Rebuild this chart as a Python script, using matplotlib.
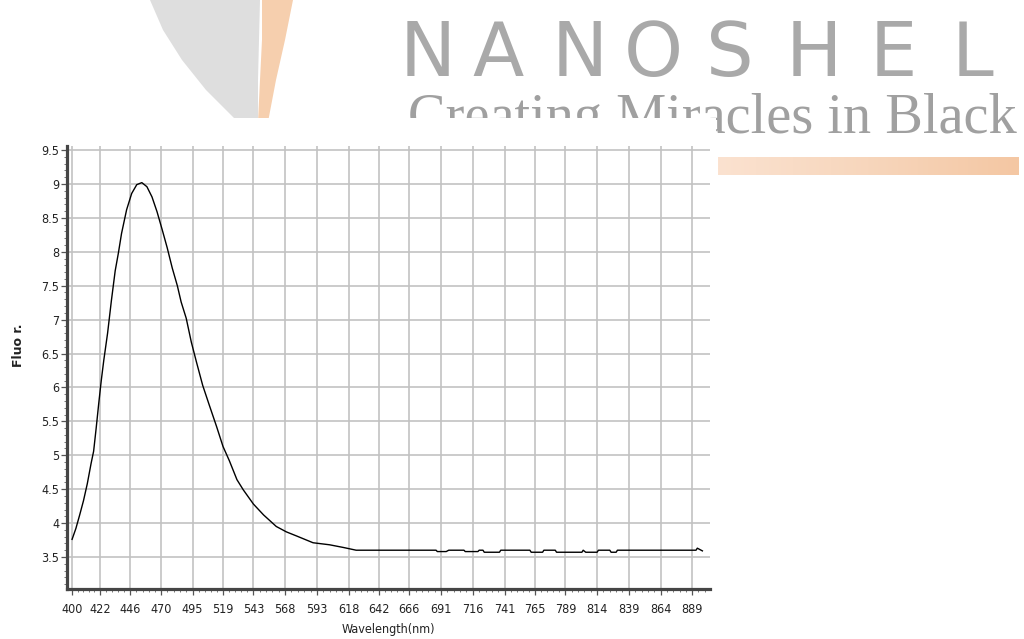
import numpy as np
import matplotlib
matplotlib.use('Agg')
import matplotlib.pyplot as plt
from matplotlib.patches import Rectangle, Polygon
from matplotlib.colors import LinearSegmentedColormap

# ---------------- data ----------------
wavelength = [400, 403, 406, 409, 412, 415, 417, 419, 421, 423, 425, 428, 431, 434,
              436.5, 439, 443, 447, 451, 455, 459, 463, 467, 471, 475, 479, 483, 486,
              490, 494, 498, 503, 508, 514, 519, 524, 530, 535, 543, 551, 561, 569,
              577, 590, 603, 614, 624, 687, 688, 695, 697, 709, 710, 720, 721, 724,
              725, 737, 738, 761, 762, 771, 772, 781, 782, 802, 803, 805, 814, 815,
              824, 825, 829, 830, 892, 893, 897]
fluor = [3.76, 3.92, 4.12, 4.33, 4.58, 4.88, 5.06, 5.40, 5.76, 6.10, 6.40, 6.80, 7.28, 7.72,
         7.98, 8.27, 8.62, 8.86, 8.99, 9.02, 8.96, 8.81, 8.59, 8.33, 8.06, 7.76, 7.50, 7.26,
         7.02, 6.67, 6.38, 6.03, 5.75, 5.42, 5.13, 4.92, 4.64, 4.49, 4.28, 4.12, 3.95, 3.87,
         3.81, 3.71, 3.68, 3.64, 3.60, 3.60, 3.58, 3.58, 3.60, 3.60, 3.58, 3.58, 3.60, 3.60,
         3.57, 3.57, 3.60, 3.60, 3.57, 3.57, 3.60, 3.60, 3.57, 3.57, 3.60, 3.57, 3.57, 3.60,
         3.60, 3.57, 3.57, 3.60, 3.60, 3.63, 3.59]

x_ticks = [400, 422, 446, 470, 495, 519, 543, 568, 593, 618, 642, 666, 691, 716,
           741, 765, 789, 814, 839, 864, 889]
y_ticks = [3.5, 4, 4.5, 5, 5.5, 6, 6.5, 7, 7.5, 8, 8.5, 9, 9.5]
y_tick_labels = ['3.5', '4', '4.5', '5', '5.5', '6', '6.5', '7', '7.5', '8', '8.5', '9', '9.5']
x_label = 'Wavelength(nm)'
y_label = 'Fluo r.'
brand = 'NANOSHEL'
slogan = 'Creating Miracles in Black'

# ---------------- figure ----------------
W, H = 1024, 639
fig = plt.figure(figsize=(W / 100, H / 100), dpi=100)
fig.patch.set_facecolor('white')

def fx(px):
    return px / W

def fy(py):
    return 1 - py / H

tick_font = ['DejaVu Sans']

# ---- watermark / logo decoration ----
gray_left = [(150, 0), (163, 30), (182, 60), (206, 90), (238, 122)]
gray_right = [(258, 122), (258, 80), (259, 40), (260, 0)]
fig.patches.append(Polygon([(fx(a), fy(b)) for a, b in gray_left + gray_right],
                           closed=True, transform=fig.transFigure,
                           facecolor='#dedede', edgecolor='none', zorder=-3))
or_left = [(262, 0), (262, 40), (260, 80), (258, 122)]
or_right = [(268, 122), (276, 80), (285, 40), (293, 0)]
fig.patches.append(Polygon([(fx(a), fy(b)) for a, b in or_left + or_right],
                           closed=True, transform=fig.transFigure,
                           facecolor='#f6cfae', edgecolor='none', zorder=-3))

letter_left = [400, 472, 552, 624, 706, 786, 870, 952]
for ch, lx in zip(brand, letter_left):
    fig.text(fx(lx), fy(76), ch, fontsize=54, family='DejaVu Sans',
             color='#a9a9a9', ha='left', va='baseline', zorder=-2)

fig.text(fx(408), fy(133), slogan, fontsize=40.6, family='Liberation Serif',
         color='#a0a0a0', ha='left', va='baseline', zorder=-2)

# orange gradient bar
bar_ax = fig.add_axes([fx(718), fy(175), (1019 - 718) / W, 18 / H], zorder=-2)
grad = np.linspace(0, 1, 256).reshape(1, -1)
cmap = LinearSegmentedColormap.from_list('bar', ['#fbe2d0', '#f7d6bc', '#f4c7a3'])
bar_ax.imshow(grad, aspect='auto', cmap=cmap, extent=[0, 1, 0, 1])
bar_ax.axis('off')

# white area of the chart picture covering the logo
fig.patches.append(Rectangle((0, 0), 716 / W, 1 - 118 / H, transform=fig.transFigure,
                             facecolor='white', edgecolor='none', zorder=-1))

# ---- main axes ----
left, right, top, bottom = 67, 710, 146, 589
ax = fig.add_axes([fx(left), fy(bottom), (right - left) / W, (bottom - top) / H], zorder=1)
ax.set_facecolor('white')

ax.plot(wavelength, fluor, color='black', lw=1.0, zorder=3)

ax.set_xlim(396, 903)
ax.set_ylim(3.028, 9.56)

ax.set_xticks(x_ticks)
ax.set_xticklabels([str(v) for v in x_ticks])
ax.set_yticks(y_ticks)
ax.set_yticklabels(y_tick_labels)

minor_x = []
for a, b in zip(x_ticks[:-1], x_ticks[1:]):
    minor_x += [a + (b - a) * k / 5 for k in range(1, 5)]
minor_x += [889 + 24.5 * k / 5 for k in range(1, 3)]
ax.set_xticks(minor_x, minor=True)
ax.set_yticks(np.arange(3.1, 9.51, 0.1), minor=True)

ax.grid(True, which='major', color='#c2c2c2', lw=1.2, zorder=1)
ax.set_axisbelow(True)

for s in ['top', 'right']:
    ax.spines[s].set_visible(False)
for s in ['left', 'bottom']:
    ax.spines[s].set_color('#454545')
    ax.spines[s].set_linewidth(2.3)

ax.tick_params(axis='both', which='major', direction='out', length=4, width=0.9,
               color='#555555', labelcolor='#222222', labelsize=9)
ax.tick_params(axis='both', which='minor', direction='out', length=2.5, width=0.7,
               color='#777777')
ax.tick_params(axis='x', which='major', pad=6)
ax.tick_params(axis='y', which='major', pad=1.5)
for lab in ax.get_xticklabels() + ax.get_yticklabels():
    lab.set_family(tick_font)
    lab.set_fontstretch('condensed')

ax.set_xlabel(x_label, fontsize=9, family=tick_font, color='#222222', labelpad=5,
              fontstretch='condensed')
fig.text(fx(19), fy(345), y_label, rotation=90, fontsize=9, family=tick_font,
         color='#222222', ha='center', va='center', fontweight='bold')

fig.savefig('out.png', dpi=100, facecolor='white')
